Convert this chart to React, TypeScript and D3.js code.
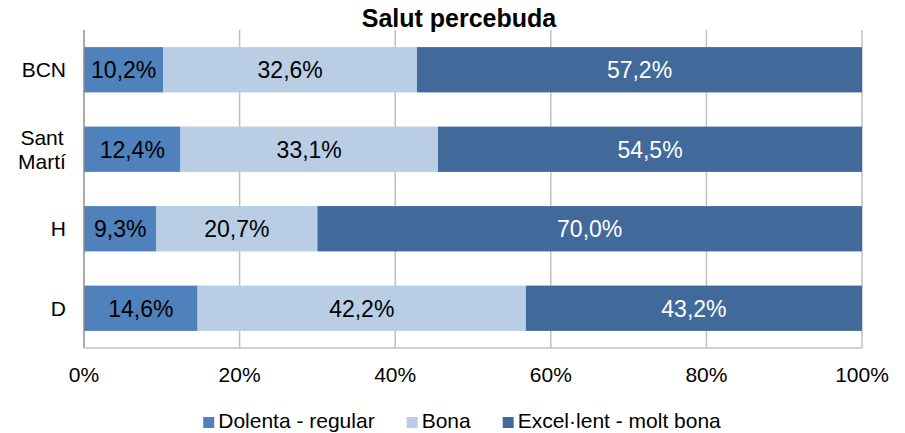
import React, { useEffect, useRef } from 'react';
import * as d3 from 'd3';

const categories = ['BCN', 'Sant Martí', 'H', 'D'];
const seriesNames = ['Dolenta - regular', 'Bona', 'Excel·lent - molt bona'];
const dolenta = [10.2, 12.4, 9.3, 14.6];
const bona = [32.6, 33.1, 20.7, 42.2];
const excellent = [57.2, 54.5, 70.0, 43.2];
const xTicks = [0, 20, 40, 60, 80, 100];

const colors = ['#4f81bd', '#b9cde5', '#416a9b'];
const labelColors = ['#000', '#000', '#fff'];
const font = '"Liberation Sans", Arial, sans-serif';

export default function App() {
  const ref = useRef<SVGSVGElement>(null);

  useEffect(() => {
    const width = 905;
    const height = 433;
    const svg = d3.select(ref.current);
    svg.selectAll('*').remove();
    svg.attr('width', width).attr('height', height);

    const x = d3.scaleLinear().domain([0, 100]).range([84, 862]);
    const y = d3.scaleBand().domain(categories)
      .range([30, 348])
      .paddingInner(0.43)
      .paddingOuter(0.215);

    // title
    svg.append('text')
      .attr('x', 459).attr('y', 27)
      .attr('text-anchor', 'middle')
      .attr('font-family', font)
      .attr('font-weight', 'bold')
      .attr('font-size', 25)
      .text('Salut percebuda');

    // gridlines
    svg.append('g').selectAll('line')
      .data(xTicks.slice(1))
      .enter().append('line')
      .attr('x1', d => x(d)).attr('x2', d => x(d))
      .attr('y1', 30).attr('y2', 348)
      .attr('stroke', '#c0c0c0').attr('stroke-width', 1.5);

    // stacked bars
    const rows = categories.map((c, i) => ({
      cat: c, v0: dolenta[i], v1: bona[i], v2: excellent[i]
    }));
    const stack = d3.stack<any>().keys(['v0', 'v1', 'v2'])(rows);

    stack.forEach((layer, k) => {
      const g = svg.append('g');
      g.selectAll('rect')
        .data(layer)
        .enter().append('rect')
        .attr('x', d => x(d[0]))
        .attr('width', d => x(d[1]) - x(d[0]))
        .attr('y', d => y(d.data.cat)!)
        .attr('height', y.bandwidth())
        .attr('fill', colors[k]);
      g.selectAll('text')
        .data(layer)
        .enter().append('text')
        .attr('x', d => (x(d[0]) + x(d[1])) / 2)
        .attr('y', d => y(d.data.cat)! + y.bandwidth() / 2)
        .attr('dy', '0.36em')
        .attr('text-anchor', 'middle')
        .attr('font-family', font)
        .attr('font-size', 23)
        .attr('fill', labelColors[k])
        .text(d => (d[1] - d[0]).toFixed(1).replace('.', ',') + '%');
    });

    // axes lines
    svg.append('line')
      .attr('x1', x(0)).attr('x2', x(0))
      .attr('y1', 30).attr('y2', 348)
      .attr('stroke', '#8c8c8c').attr('stroke-width', 1.5);
    svg.append('line')
      .attr('x1', x(0)).attr('x2', x(100))
      .attr('y1', 348).attr('y2', 348)
      .attr('stroke', '#c0c0c0').attr('stroke-width', 1.5);

    // x tick labels
    svg.append('g').selectAll('text')
      .data(xTicks)
      .enter().append('text')
      .attr('x', d => x(d))
      .attr('y', 382)
      .attr('text-anchor', 'middle')
      .attr('font-family', font)
      .attr('font-size', 21)
      .text(d => d + '%');

    // category labels
    categories.forEach(c => {
      const parts = c.split(' ');
      const cy = y(c)! + y.bandwidth() / 2;
      const t = svg.append('text')
        .attr('font-family', font)
        .attr('font-size', 21)
        .attr('text-anchor', parts.length > 1 ? 'middle' : 'end');
      const lx = parts.length > 1 ? 42 : 66;
      parts.forEach((p, i) => {
        t.append('tspan')
          .attr('x', lx)
          .attr('y', cy + (i - (parts.length - 1) / 2) * 24)
          .attr('dy', '0.36em')
          .text(p);
      });
    });

    // legend
    const legend = svg.append('g');
    let cx = 0;
    seriesNames.forEach((name, i) => {
      const item = legend.append('g').attr('transform', `translate(${cx},0)`);
      item.append('rect')
        .attr('x', 0).attr('y', 417)
        .attr('width', 11).attr('height', 11)
        .attr('fill', colors[i]);
      const txt = item.append('text')
        .attr('x', 15).attr('y', 428)
        .attr('font-family', font)
        .attr('font-size', 21)
        .text(name);
      const w = (txt.node() as SVGTextElement).getComputedTextLength();
      cx += 15 + w + 32;
    });
    const total = cx - 32;
    legend.attr('transform', `translate(${462 - total / 2},0)`);
  }, []);

  return (
    <svg ref={ref} width={905} height={433}
      style={{ position: 'absolute', left: 0, top: 0, background: '#fff' }} />
  );
}
